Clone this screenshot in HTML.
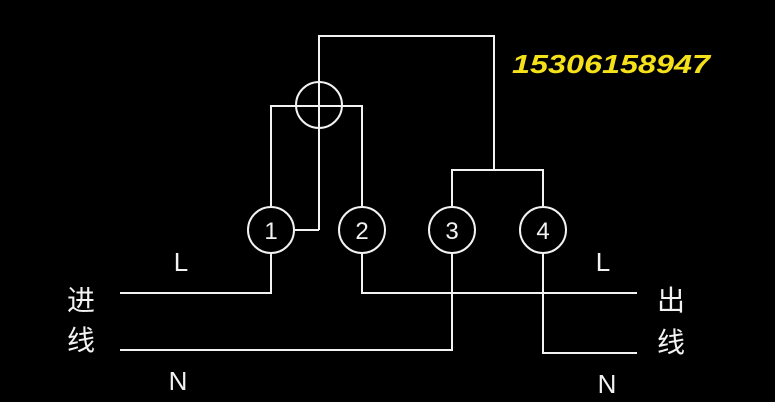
<!DOCTYPE html>
<html><head><style>
html,body{margin:0;padding:0;background:#000;width:775px;height:402px;overflow:hidden}
</style></head><body>
<svg width="775" height="402" xmlns="http://www.w3.org/2000/svg" style="display:block">
<rect width="775" height="402" fill="#000"/>
<g stroke="#f2f2f2" stroke-width="2" fill="none">
<polyline points="319,230 319,36 494,36 494,170"/>
<polyline points="452,206 452,170 543,170 543,206"/>
<polyline points="271,206 271,106 362,106 362,206"/>
<circle cx="319" cy="105" r="23"/>
<polyline points="295,230 319,230"/>
<circle cx="271" cy="230" r="23"/>
<circle cx="362" cy="230" r="23"/>
<circle cx="452" cy="230" r="23"/>
<circle cx="543" cy="230" r="23"/>
<polyline points="120,293 271,293 271,254"/>
<polyline points="362,254 362,293 637,293"/>
<polyline points="120,350 452,350 452,254"/>
<polyline points="543,254 543,353 637,353"/>
</g>
<g fill="#f2f2f2" font-family="Liberation Sans, sans-serif" font-size="24" text-anchor="middle">
<text x="271" y="239">1</text>
<text x="362" y="239">2</text>
<text x="452" y="239">3</text>
<text x="543" y="239">4</text>
<text x="181" y="271" font-size="26">L</text>
<text x="603" y="271" font-size="26">L</text>
<text x="178" y="390" font-size="26">N</text>
<text x="607" y="393" font-size="26">N</text>
</g>
<g fill="#f2f2f2" font-family="Liberation Sans, 'Noto Sans CJK SC', sans-serif" font-size="28" text-anchor="middle">
<text x="81" y="310">进</text>
<text x="81" y="350">线</text>
<text x="671" y="310">出</text>
<text x="671" y="352">线</text>
</g>
<text x="512" y="73" fill="#f5e11a" font-family="Liberation Sans, sans-serif" font-size="26" font-weight="bold" font-style="italic" textLength="198" lengthAdjust="spacingAndGlyphs">15306158947</text>
</svg>
</body></html>
